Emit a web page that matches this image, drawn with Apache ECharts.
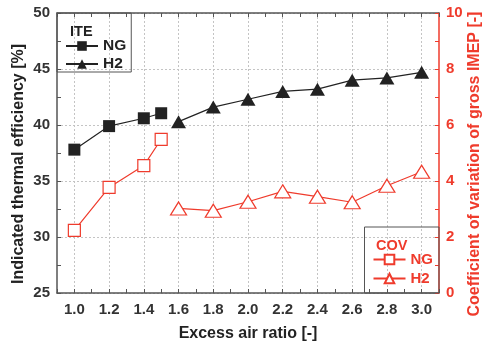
<!DOCTYPE html>
<html>
<head>
<meta charset="utf-8">
<script src="https://cdn.jsdelivr.net/npm/echarts@6/dist/echarts.min.js"></script>
<style>
  html, body { margin: 0; padding: 0; background: #fff; }
  #chart { width: 484px; height: 344px; }
</style>
</head>
<body>
<div id="chart"></div>
<script>
// excess air ratio of each run
const ngRatio = [1.0, 1.2, 1.4, 1.5];
const h2Ratio = [1.6, 1.8, 2.0, 2.2, 2.4, 2.6, 2.8, 3.0];
// indicated thermal efficiency [%]
const iteNG = [37.8, 39.9, 40.6, 41.05];
const iteH2 = [40.3, 41.6, 42.3, 43.0, 43.2, 44.0, 44.2, 44.7];
// COV of gross IMEP [-]
const covNG = [2.24, 3.77, 4.55, 5.49];
const covH2 = [3.02, 2.94, 3.26, 3.63, 3.44, 3.24, 3.83, 4.33];

const RED = '#ef3b2c';
const DARK = '#222';
const FONT = 'Liberation Sans';

function pairs(xs, ys) {
  return xs.map((x, i) => [x, ys[i]]);
}

var chart = echarts.init(document.getElementById('chart'));

var tickStyle = { show: true, inside: true, length: 4, lineStyle: { color: '#555' } };

var option = {
  animation: false,
  textStyle: { fontFamily: FONT },
  title: [
    { text: 'ITE', left: 65, top: 19, textStyle: { fontSize: 14.5, fontWeight: 'bold', color: DARK, fontFamily: FONT } },
    { text: 'COV', left: 371, top: 233, textStyle: { fontSize: 14.5, fontWeight: 'bold', color: RED, fontFamily: FONT } }
  ],
  legend: [{
    data: ['ITE NG', 'ITE H2'],
    orient: 'vertical',
    left: 57, top: 13,
    padding: [25, 5, 0, 8],
    itemGap: 2,
    itemWidth: 32, itemHeight: 12,
    borderColor: '#555', borderWidth: 1,
    formatter: n => n.replace('ITE ', ''),
    textStyle: { fontSize: 15.5, fontWeight: 'bold', color: DARK, fontFamily: FONT }
  }, {
    data: ['COV NG', 'COV H2'],
    orient: 'vertical',
    right: 45, bottom: 51,
    padding: [25, 6, 7, 8],
    itemGap: 4,
    itemWidth: 32, itemHeight: 12,
    borderColor: '#555', borderWidth: 1,
    formatter: n => n.replace('COV ', ''),
    textStyle: { fontSize: 15, fontWeight: 'bold', color: RED, fontFamily: FONT }
  }],
  grid: [
    { left: 57, right: 45, top: 13, bottom: 51, outerBoundsMode: 'none' },
    // inner grid spanning 1.0 .. 3.0, only used for the vertical dashed lines
    { left: 74.4, right: 62.4, top: 13, bottom: 51, outerBoundsMode: 'none' }
  ],
  xAxis: [{
    gridIndex: 0, type: 'value', position: 'bottom',
    min: 0.9, max: 3.1, interval: 0.1,
    name: 'Excess air ratio [-]', nameLocation: 'middle', nameGap: 33,
    nameMoveOverlap: false,
    nameTextStyle: { fontSize: 16, fontWeight: 'bold', color: DARK, fontFamily: FONT },
    axisLine: { lineStyle: { color: '#555', width: 1.5 } },
    axisTick: tickStyle,
    splitLine: { show: false },
    axisLabel: {
      fontSize: 15, fontWeight: 'bold', color: '#333', margin: 9,
      formatter: v => (Math.round(v * 10) % 2 === 0 && v > 0.95 && v < 3.05) ? v.toFixed(1) : ''
    }
  }, {
    gridIndex: 0, type: 'value', position: 'top',
    min: 0.9, max: 3.1, interval: 0.1,
    axisLine: { lineStyle: { color: '#555', width: 1.5 } },
    axisTick: tickStyle,
    axisLabel: { show: false },
    splitLine: { show: false }
  }, {
    gridIndex: 1, type: 'value',
    min: 1.0, max: 3.0, interval: 0.2,
    axisLine: { show: false }, axisTick: { show: false }, axisLabel: { show: false },
    splitLine: { show: true, lineStyle: { color: '#c4c4c4', type: [2, 2] } }
  }],
  yAxis: [{
    gridIndex: 0, type: 'value', position: 'left',
    min: 25, max: 50, interval: 5,
    name: 'Indicated thermal efficiency [%]', nameLocation: 'middle', nameGap: 30,
    nameMoveOverlap: false,
    nameTextStyle: { fontSize: 16, fontWeight: 'bold', color: DARK, fontFamily: FONT, padding: [0, 22, 0, 0] },
    axisLine: { show: true, lineStyle: { color: '#555', width: 1.5 } },
    axisTick: tickStyle,
    minorTick: { show: true, splitNumber: 2, length: 4, lineStyle: { color: '#555' } },
    axisLabel: { fontSize: 15, fontWeight: 'bold', color: '#333', margin: 7 },
    splitLine: { show: true, lineStyle: { color: '#c4c4c4', type: [2, 2] } }
  }, {
    gridIndex: 0, type: 'value', position: 'right',
    min: 0, max: 10, interval: 2,
    name: 'Coefficient of variation of gross IMEP [-]', nameLocation: 'middle', nameGap: 28,
    nameRotate: 90, nameMoveOverlap: false,
    nameTextStyle: { fontSize: 16, fontWeight: 'bold', color: RED, fontFamily: FONT, padding: [0, 22, 0, 0] },
    axisLine: { show: true, lineStyle: { color: RED, width: 1.5 } },
    axisTick: { show: true, inside: true, length: 4, lineStyle: { color: RED } },
    minorTick: { show: true, splitNumber: 2, length: 4, lineStyle: { color: RED } },
    axisLabel: { fontSize: 15, fontWeight: 'bold', color: RED, margin: 7 },
    splitLine: { show: false }
  }, {
    gridIndex: 1, type: 'value', min: 0, max: 1, show: false
  }],
  series: [{
    name: 'ITE NG', type: 'line', xAxisIndex: 0, yAxisIndex: 0,
    data: pairs(ngRatio, iteNG),
    symbol: 'rect', symbolSize: 12,
    itemStyle: { color: DARK },
    lineStyle: { color: DARK, width: 1.2 }
  }, {
    name: 'ITE H2', type: 'line', xAxisIndex: 0, yAxisIndex: 0,
    data: pairs(h2Ratio, iteH2),
    symbol: 'triangle', symbolSize: [15, 13],
    itemStyle: { color: DARK },
    lineStyle: { color: DARK, width: 1.2 }
  }, {
    name: 'COV NG', type: 'line', xAxisIndex: 0, yAxisIndex: 1,
    data: pairs(ngRatio, covNG),
    symbol: 'rect', symbolSize: 12,
    itemStyle: { color: '#fff', borderColor: RED, borderWidth: 1.2 },
    lineStyle: { color: RED, width: 1.2 }
  }, {
    name: 'COV H2', type: 'line', xAxisIndex: 0, yAxisIndex: 1,
    data: pairs(h2Ratio, covH2),
    symbol: 'triangle', symbolSize: [16, 13],
    itemStyle: { color: '#fff', borderColor: RED, borderWidth: 1.2 },
    lineStyle: { color: RED, width: 1.2 }
  }]
};

chart.setOption(option);
</script>
</body>
</html>
